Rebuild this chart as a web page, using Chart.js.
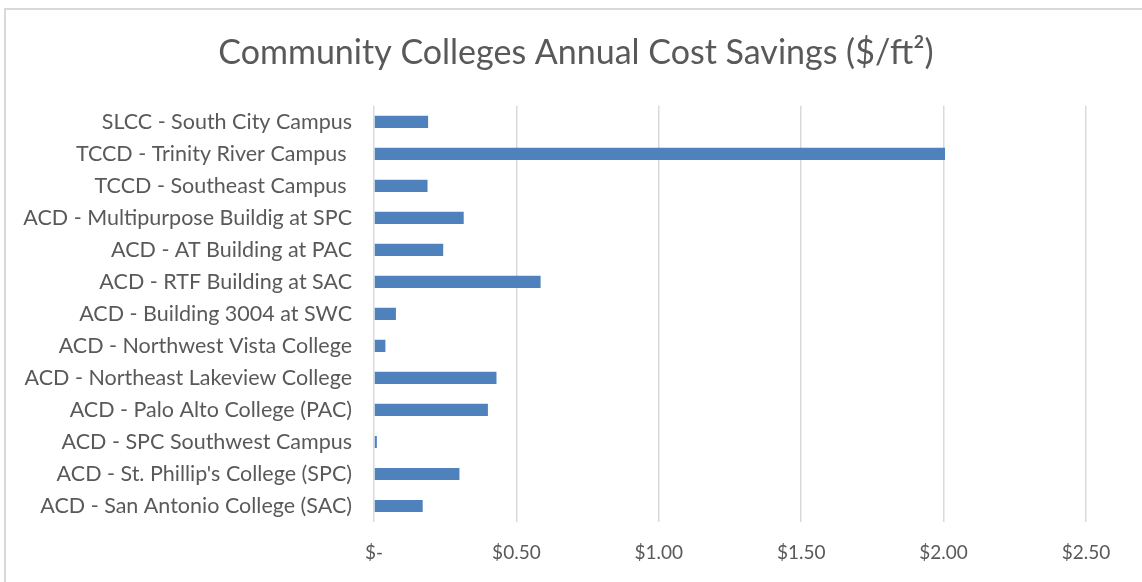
<!DOCTYPE html>
<html>
<head>
<meta charset="utf-8">
<script src="https://cdn.jsdelivr.net/npm/chart.js@4/dist/chart.umd.min.js"></script>
<style>
    body { margin: 0; overflow: hidden; background: #fff; }
    #frame { position: absolute; left: 4px; top: 8px; width: 1200px; height: 700px; border: 2px solid #d9d9d9; }
    #wrap { position: absolute; left: 0; top: 0; width: 1142px; height: 582px; }
</style>
</head>
<body>
<div id="frame"></div>
<div id="wrap"><canvas id="myChart"></canvas></div>
<script>
const campusNames = [
    'SLCC - South City Campus',
    'TCCD - Trinity River Campus ',
    'TCCD - Southeast Campus ',
    'ACD - Multipurpose Buildig at SPC',
    'ACD - AT Building at PAC',
    'ACD - RTF Building at SAC',
    'ACD - Building 3004 at SWC',
    'ACD - Northwest Vista College',
    'ACD - Northeast Lakeview College',
    'ACD - Palo Alto College (PAC)',
    'ACD - SPC Southwest Campus',
    "ACD - St. Phillip's College (SPC)",
    'ACD - San Antonio College (SAC)'
];
const savings = [0.19, 2.005, 0.188, 0.315, 0.243, 0.585, 0.077, 0.04, 0.43, 0.40, 0.01, 0.30, 0.171];
const tickLabels = ['$-', '$0.50', '$1.00', '$1.50', '$2.00', '$2.50'];

const textColor = '#595959';
const fontName = 'Lato';

// the frame runs past the right edge of the page, so the title sits right of
// the canvas centre; nudge the title box after layout
const shiftTitle = {
    id: 'shiftTitle',
    afterLayout(chart) {
        if (chart.titleBlock) {
            chart.titleBlock.left = 66;
        }
    }
};

const ctx = document.getElementById('myChart').getContext('2d');
const myChart = new Chart(ctx, {
    type: 'bar',
    data: {
        labels: campusNames,
        datasets: [{
            data: savings,
            backgroundColor: '#4f81bd',
            borderWidth: 0,
            barPercentage: 0.38,
            categoryPercentage: 1
        }]
    },
    options: {
        indexAxis: 'y',
        responsive: true,
        maintainAspectRatio: false,
        animation: false,
        layout: { padding: { left: 4, right: 56, top: 0, bottom: 0 } },
        plugins: {
            legend: { display: false },
            tooltip: { enabled: false },
            title: {
                display: true,
                text: 'Community Colleges Annual Cost Savings ($/ft²)',
                color: textColor,
                font: { family: fontName, size: 34, weight: 'normal' },
                padding: { top: 33, bottom: 32 }
            }
        },
        scales: {
            x: {
                min: 0,
                max: 2.5,
                grid: { color: '#d9d9d9', lineWidth: 1.5, drawTicks: false },
                border: { display: false },
                ticks: {
                    stepSize: 0.5,
                    padding: 19,
                    color: textColor,
                    font: { family: fontName, size: 19 },
                    callback: function(value, index) { return tickLabels[index]; }
                },
                afterFit: function(scale) { scale.height = 60; }
            },
            y: {
                grid: { display: false, drawTicks: false },
                border: { display: false },
                ticks: {
                    padding: 22,
                    color: textColor,
                    autoSkip: false,
                    font: { family: fontName, size: 21.5 }
                },
                afterFit: function(scale) { scale.width = 370; }
            }
        }
    },
    plugins: [shiftTitle]
});
</script>
</body>
</html>
